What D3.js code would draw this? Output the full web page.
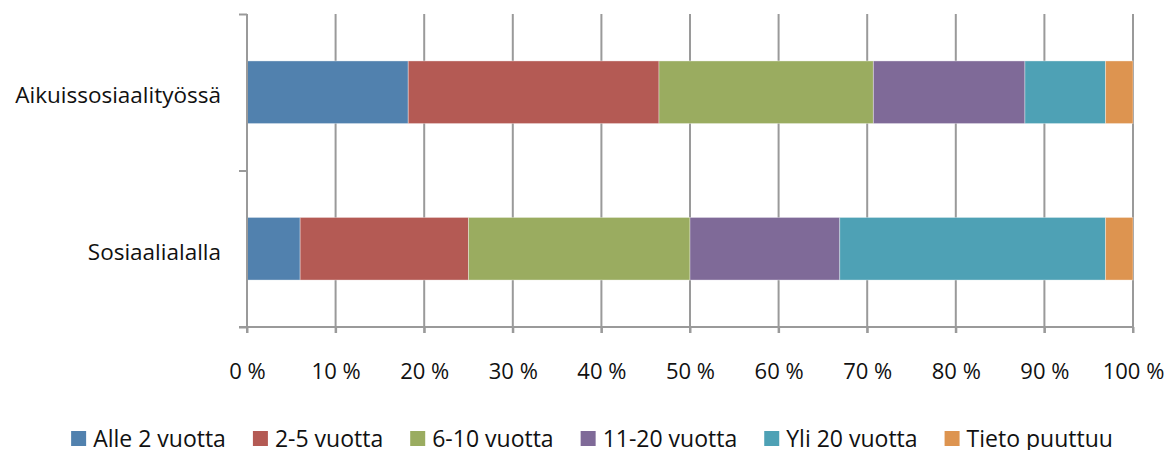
<!DOCTYPE html>
<html lang="en">
<head>
    <meta charset="utf-8">
    <script src="https://d3js.org/d3.v7.min.js"></script>
    <style>
        body { margin: 0; background: #fff; }
        text { font-family: "Open Sans", sans-serif; fill: #111; }
        .axis path, .axis line { stroke: #9a9a9a; stroke-width: 2; }
        .grid line { stroke: #9a9a9a; stroke-width: 2; }
    </style>
</head>
<body>
    <svg width="1167" height="450"></svg>
    <script>
        // categories (top to bottom)
        var categories = ["Aikuissosiaalityössä", "Sosiaalialalla"];
        var seriesNames = ["Alle 2 vuotta", "2-5 vuotta", "6-10 vuotta", "11-20 vuotta", "Yli 20 vuotta", "Tieto puuttuu"];
        var colors = ["#5181AE", "#B45A54", "#9AAC60", "#7F6A98", "#4EA1B5", "#DD9450"];
        // shares in %
        var aikuissosiaalityossa = [18.2, 28.3, 24.2, 17.1, 9.1, 3.1];
        var sosiaalialalla = [6.0, 19.0, 25.0, 16.9, 30.0, 3.1];
        var tickValues = [0, 10, 20, 30, 40, 50, 60, 70, 80, 90, 100];

        var rows = [aikuissosiaalityossa, sosiaalialalla].map(function (vals, i) {
            var r = { cat: categories[i] };
            seriesNames.forEach(function (s, j) { r[s] = vals[j]; });
            return r;
        });

        var svg = d3.select("svg");
        var plotLeft = 247, plotRight = 1133, plotTop = 14, plotBottom = 327;

        var x = d3.scaleLinear().domain([0, 100]).range([plotLeft, plotRight]);
        var y = d3.scaleBand().domain(categories).range([plotTop, plotBottom])
            .paddingInner(0.6).paddingOuter(0.3);
        // boundaries between categories, for the y axis ticks
        var yb = d3.scaleLinear().domain([0, categories.length]).range([plotTop, plotBottom]);

        // vertical gridlines (extend a bit below the axis like tick marks)
        svg.append("g").attr("class", "grid")
            .selectAll("line")
            .data(tickValues.slice(1))
            .enter().append("line")
            .attr("x1", function (d) { return x(d); })
            .attr("x2", function (d) { return x(d); })
            .attr("y1", plotTop)
            .attr("y2", plotBottom + 6);

        // stacked bars
        var stack = d3.stack().keys(seriesNames);
        var layers = stack(rows);

        svg.append("g").selectAll("g")
            .data(layers)
            .enter().append("g")
            .attr("fill", function (d, i) { return colors[i]; })
            .selectAll("rect")
            .data(function (d) { return d; })
            .enter().append("rect")
            .attr("x", function (d) { return x(d[0]); })
            .attr("width", function (d) { return x(d[1]) - x(d[0]); })
            .attr("y", function (d) { return y(d.data.cat); })
            .attr("height", y.bandwidth())
            .attr("stroke", "rgba(255,255,255,0.35)")
            .attr("stroke-width", 1);

        // x axis
        var xAxis = svg.append("g")
            .attr("class", "axis")
            .attr("transform", "translate(0," + plotBottom + ")")
            .call(d3.axisBottom(x).tickValues(tickValues).tickSize(6).tickPadding(30)
                .tickFormat(function (d) { return d + " %"; }));
        xAxis.selectAll("text").style("font-size", "22px").attr("fill", "#111");
        xAxis.select(".domain").attr("d", "M" + (plotLeft - 8) + ",0H" + plotRight);

        // y axis
        var yAxis = svg.append("g")
            .attr("class", "axis")
            .attr("transform", "translate(" + plotLeft + ",0)")
            .call(d3.axisLeft(yb).tickValues(d3.range(categories.length + 1))
                .tickSize(8).tickFormat(""));
        yAxis.select(".domain").attr("d", "M0," + plotTop + "V" + (plotBottom + 6));

        // category labels
        svg.append("g").selectAll("text")
            .data(categories)
            .enter().append("text")
            .attr("x", 221)
            .attr("y", function (d) { return y(d) + y.bandwidth() / 2 + 11; })
            .attr("text-anchor", "end")
            .style("font-size", "22.5px")
            .text(function (d) { return d; });

        // legend
        var legend = svg.append("g").attr("class", "legend");
        var items = legend.selectAll("g")
            .data(seriesNames)
            .enter().append("g");
        items.append("rect")
            .attr("width", 15).attr("height", 15)
            .attr("y", 431)
            .attr("fill", function (d, i) { return colors[i]; });
        items.append("text")
            .attr("x", 22)
            .attr("y", 447)
            .style("font-size", "23px")
            .text(function (d) { return d; });

        var pos = 0;
        items.each(function () {
            var w = this.getBBox().width;
            d3.select(this).attr("transform", "translate(" + pos + ",0)");
            pos += w + 27;
        });
        var total = pos - 27;
        legend.attr("transform", "translate(" + (592 - total / 2) + ",0)");
    </script>
</body>
</html>
